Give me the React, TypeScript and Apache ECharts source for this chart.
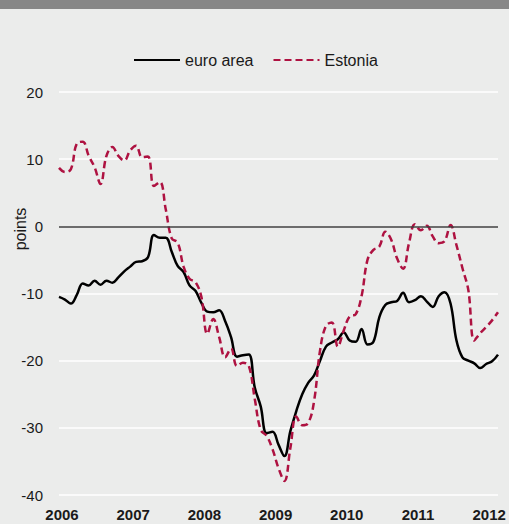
import React, { useEffect, useRef } from "react";
import * as echarts from "echarts";

// Monthly values, Jan 2006 onward (points)
const euroArea = [
  -10.5, -10.9, -11.5, -10.2, -8.5, -8.8, -8.1, -8.7, -8.1, -8.4, -7.6, -6.7,
  -6.0, -5.3, -5.2, -4.6, -1.3, -1.7, -1.7, -3.8, -5.9, -6.8, -8.8, -9.6,
  -11.4, -12.7, -12.8, -12.5, -14.1, -16.5, -19.4, -19.2, -19.1, -24.0, -26.8, -30.8,
  -30.6, -32.5, -34.2, -30.5, -27.5, -25.0, -23.3, -22.2, -20.0, -17.9, -17.3, -16.8,
  -15.8, -17.0, -17.2, -15.3, -17.6, -17.2, -13.5, -11.7, -11.3, -11.1, -9.9, -11.3,
  -11.0, -10.4, -11.2, -12.0, -10.4, -9.8, -11.5, -17.0, -19.5, -20.0, -20.4, -21.1,
  -20.5, -20.1, -19.1,
];
const estonia = [
  8.7, 8.1, 8.5, 12.3, 12.6, 10.5, 8.8, 6.3, 10.5, 11.8, 10.5, 9.8,
  11.3, 12.0, 10.3, 10.4, 6.0, 6.6, 2.5, -1.8, -2.4, -6.0, -7.8, -8.3,
  -10.5, -16.0, -13.8, -16.5, -19.5, -18.2, -20.8, -20.3, -20.8, -25.7, -30.3, -31.2,
  -33.2, -36.0, -37.9, -33.0, -28.3, -29.6, -29.3, -26.0, -18.5, -14.8, -14.3, -17.9,
  -15.5, -13.4, -13.1, -10.4, -5.0, -3.5, -3.0, -0.8, -2.0, -4.8, -6.3, -2.5,
  0.3, -0.6, 0.1, -1.5, -2.5, -2.2, 0.2, -2.8, -6.2, -9.5, -17.0, -15.9,
  -15.0, -14.0, -12.8,
];
const startYear = 2006;
const yearLabels = ["2006", "2007", "2008", "2009", "2010", "2011", "2012"];
const seriesNames = ["euro area", "Estonia"];
const yAxisName = "points";

const FONT = "'Liberation Sans', Arial, Helvetica, sans-serif";

export default function App() {
  const ref = useRef<HTMLDivElement>(null);
  useEffect(() => {
    if (!ref.current) return;
    const chart = echarts.init(ref.current, undefined, { renderer: "svg" });
    const toPairs = (arr: number[]) => arr.map((v, i) => [i, v]);
    chart.setOption({
      animation: false,
      backgroundColor: "#EBECEB",
      textStyle: { fontFamily: FONT },
      grid: { left: 59, right: 11, top: 92, bottom: 29, containLabel: false },
      legend: {
        left: 133,
        top: 52,
        padding: 0,
        itemWidth: 46,
        itemHeight: 14,
        itemGap: 19,
        itemStyle: { opacity: 0 },
        textStyle: { fontSize: 16, color: "#1a1a1a", fontFamily: FONT },
        data: seriesNames,
      },
      graphic: [
        { type: "rect", left: 0, top: 0, shape: { width: 509, height: 9 }, style: { fill: "#878787" } },
        {
          type: "text",
          x: 20,
          y: 229,
          rotation: Math.PI / 2,
          style: {
            text: yAxisName,
            fontSize: 16,
            fontFamily: FONT,
            fill: "#1a1a1a",
            align: "center",
            verticalAlign: "middle",
          },
        },
      ],
      xAxis: {
        type: "value",
        min: 0,
        max: 74,
        interval: 12,
        axisLine: { show: false },
        axisTick: { show: false },
        splitLine: { show: false },
        axisLabel: {
          margin: 12,
          fontSize: 15,
          fontWeight: "bold",
          color: "#1a1a1a",
          fontFamily: FONT,
          padding: [0, 0, 0, 6],
          formatter: (v: number) => (v % 12 === 0 ? yearLabels[v / 12] ?? String(startYear + v / 12) : ""),
        },
      },
      yAxis: {
        type: "value",
        min: -40,
        max: 20,
        interval: 10,
        axisLine: { show: false },
        axisTick: { show: false },
        splitLine: { show: true, lineStyle: { color: "#FFFFFF", width: 1.5 } },
        axisLabel: { margin: 16, fontSize: 15, color: "#1a1a1a", fontFamily: FONT },
      },
      series: [
        {
          name: seriesNames[0],
          type: "line",
          data: toPairs(euroArea),
          symbol: "none",
          smooth: 0.4,
          clip: false,
          lineStyle: { color: "#000000", width: 2.5 },
          itemStyle: { color: "#000000" },
          markLine: {
            silent: true,
            symbol: "none",
            label: { show: false },
            lineStyle: { color: "#3c3c3c", width: 1.5, type: "solid" },
            data: [{ yAxis: 0 }],
          },
        },
        {
          name: seriesNames[1],
          type: "line",
          data: toPairs(estonia),
          symbol: "none",
          smooth: 0.4,
          clip: false,
          lineStyle: { color: "#AE1241", width: 2.5, type: [7, 4] },
          itemStyle: { color: "#AE1241" },
        },
      ],
    });
    return () => chart.dispose();
  }, []);
  return (
    <div
      ref={ref}
      style={{ position: "fixed", left: 0, top: 0, width: 509, height: 524 }}
    />
  );
}
